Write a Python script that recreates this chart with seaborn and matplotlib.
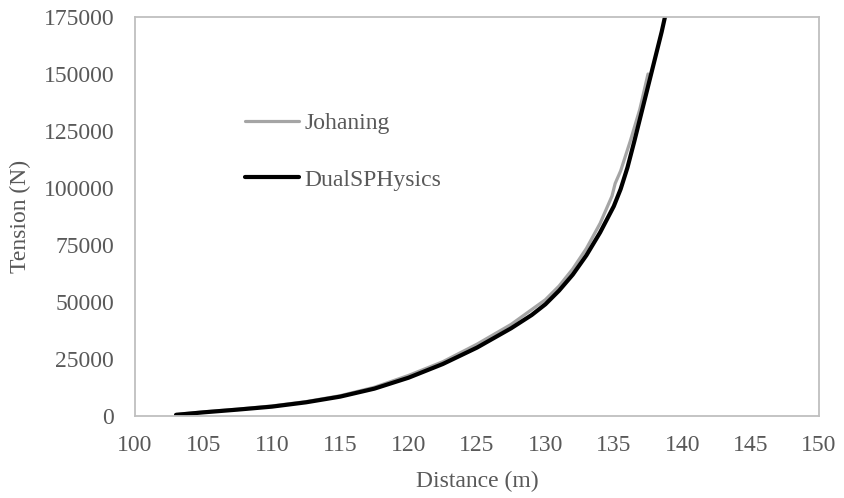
import matplotlib
matplotlib.use("Agg")
import matplotlib.pyplot as plt
import seaborn as sns
import pandas as pd

# Data
johaning_x = [103.0, 105.0, 107.5, 110.0, 112.5, 115.0, 117.5, 120.0, 122.5, 125.0,
              127.5, 130.0, 131.0, 132.0, 133.0, 134.0, 134.87, 135.1, 135.5, 136.2,
              136.9, 137.5]
johaning_y = [700, 1800, 3000, 4400, 6300, 8900, 12600, 17800, 23800, 31500,
              40200, 51000, 57000, 64500, 73500, 84500, 96500, 102000, 107500, 120500,
              134500, 150000]

dual_x = [103.0, 105.0, 107.5, 110.0, 112.5, 115.0, 117.5, 120.0, 122.5, 125.0,
          127.5, 129.0, 130.0, 131.0, 132.0, 133.0, 134.0, 135.0, 135.5, 136.0,
          136.5, 137.0, 137.5, 138.0, 138.5, 138.74, 139.0]
dual_y = [500, 1600, 2800, 4100, 6000, 8500, 12000, 16800, 22800, 30000,
          38500, 44300, 49000, 55000, 62000, 70500, 80500, 92000, 99500, 109000,
          120500, 132500, 144500, 156500, 168500, 175000, 181000]

series_names = ["Johaning", "DualSPHysics"]
x_ticks = [100, 105, 110, 115, 120, 125, 130, 135, 140, 145, 150]
y_ticks = [0, 25000, 50000, 75000, 100000, 125000, 150000, 175000]

df_j = pd.DataFrame({"x": johaning_x, "y": johaning_y})
df_d = pd.DataFrame({"x": dual_x, "y": dual_y})

sns.set_style("white")
plt.rcParams["font.family"] = ["Liberation Serif", "DejaVu Serif"]

text_col = "#595959"
spine_col = "#BFBFBF"
fs = 17

fig = plt.figure(figsize=(8.44, 4.98), dpi=100)
ax = fig.add_axes([135 / 844, (498 - 416) / 498, 684 / 844, 399 / 498])

sns.lineplot(data=df_j, x="x", y="y", ax=ax, color="#A5A5A5", linewidth=2.3,
             label=series_names[0], sort=False, estimator=None)
sns.lineplot(data=df_d, x="x", y="y", ax=ax, color="#000000", linewidth=3.0,
             label=series_names[1], sort=False, estimator=None)
for ln in ax.get_lines():
    ln.set_solid_joinstyle("round")
    ln.set_solid_capstyle("round")

ax.set_xlim(100, 150)
ax.set_ylim(0, 175000)
ax.set_xticks(x_ticks)
ax.set_yticks(y_ticks)
ax.set_xticklabels([str(t) for t in x_ticks])
ax.set_yticklabels([str(t) for t in y_ticks])

for s in ax.spines.values():
    s.set_visible(True)
    s.set_color(spine_col)
    s.set_linewidth(1.3)

ax.tick_params(axis="both", direction="in", length=5, width=1.2, color=spine_col,
               labelcolor=text_col, labelsize=fs)
ax.tick_params(axis="y", pad=15)
ax.tick_params(axis="x", pad=14)

ax.set_xlabel("Distance (m)", fontsize=fs, color=text_col)
ax.set_ylabel("Tension (N)", fontsize=fs, color=text_col)
ax.xaxis.set_label_coords(0.5, -0.138)
ax.yaxis.set_label_coords(-0.152, 0.5)

leg = ax.legend(loc="upper left", bbox_to_anchor=(0.161, 0.76), frameon=False,
                fontsize=fs, borderpad=0, handlelength=2.3, handletextpad=0.2,
                labelspacing=1.47, borderaxespad=0)
for t in leg.get_texts():
    t.set_color(text_col)

fig.savefig("out.png", dpi=100)
